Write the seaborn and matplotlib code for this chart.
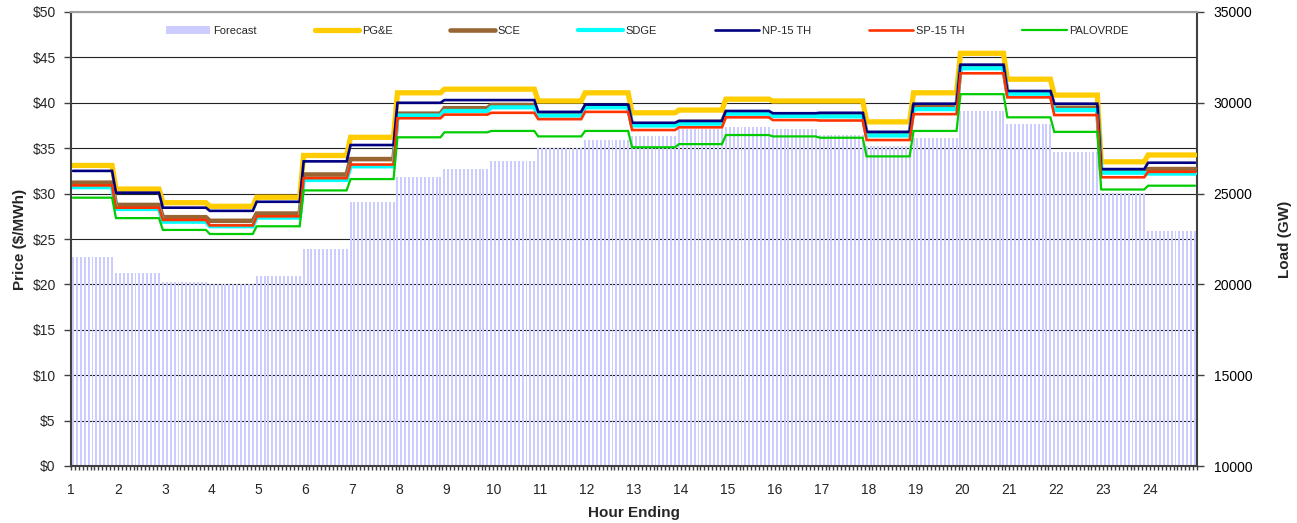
import numpy as np
import pandas as pd
import matplotlib
matplotlib.use("Agg")
import matplotlib.pyplot as plt
from matplotlib.ticker import MultipleLocator, StrMethodFormatter, FixedLocator
from matplotlib.patches import Patch
from matplotlib.lines import Line2D
import seaborn as sns

# ---------------- data (hourly values) ----------------
hours = list(range(1, 25))
load_forecast = [21509, 20646, 20132, 20022, 20463, 21949, 24537, 25932, 26355, 26795,
                 27500, 27952, 28172, 28540, 28650, 28540, 28200, 27620, 28080, 29548,
                 28816, 27307, 25050, 22940]
pge = [33.1, 30.5, 29.0, 28.6, 29.6, 34.2, 36.2, 41.1, 41.5, 41.5, 40.2, 41.1,
       38.9, 39.2, 40.4, 40.2, 40.2, 37.9, 41.1, 45.45, 42.6, 40.85, 33.5, 34.25]
sce = [31.2, 28.75, 27.4, 27.0, 27.8, 32.1, 33.8, 38.8, 39.4, 39.75, 38.8, 39.6,
       37.6, 37.9, 38.9, 38.7, 38.7, 36.6, 39.6, 43.9, 41.1, 39.45, 32.4, 32.7]
sdge = [30.7, 28.3, 26.9, 26.4, 27.35, 31.5, 33.0, 38.6, 39.1, 39.5, 38.6, 39.5,
        37.5, 37.7, 38.8, 38.55, 38.5, 36.4, 39.3, 43.8, 41.0, 39.2, 32.3, 32.2]
np15 = [32.5, 30.1, 28.45, 28.1, 29.1, 33.55, 35.35, 40.0, 40.3, 40.3, 39.0, 39.8,
        37.8, 38.0, 39.1, 38.85, 38.9, 36.8, 39.9, 44.2, 41.3, 39.9, 32.7, 33.4]
sp15 = [30.9, 28.45, 27.1, 26.5, 27.5, 31.7, 33.2, 38.3, 38.7, 38.9, 38.2, 39.0,
        37.0, 37.3, 38.4, 38.1, 38.05, 35.9, 38.75, 43.25, 40.6, 38.65, 31.8, 32.4]
palo = [29.55, 27.3, 26.0, 25.55, 26.4, 30.35, 31.6, 36.2, 36.75, 36.9, 36.3, 36.9,
        35.1, 35.45, 36.45, 36.3, 36.15, 34.1, 36.9, 40.95, 38.4, 36.8, 30.45, 30.87]

series_names = ["PG&E", "SCE", "SDGE", "NP-15 TH", "SP-15 TH", "PALOVRDE"]
series_values = [pge, sce, sdge, np15, sp15, palo]
series_colors = ["#FFCC00", "#996633", "#00FFFF", "#000080", "#FF3300", "#00CC00"]
series_widths = [3.8, 3.3, 3.0, 1.9, 1.9, 1.6]
forecast_color = "#CCCCFF"

# 5-minute intervals (12 per hour) on the category axis
steps_per_hour = 12
n = steps_per_hour * len(hours)
step = np.arange(n)
hour_idx = np.minimum((step + 1) // steps_per_hour, len(hours) - 1)
xpos = hours[0] + (step + 0.5) / steps_per_hour

# ---------------- figure ----------------
sns.set_style("white")
plt.rcParams["font.family"] = ["Liberation Sans", "DejaVu Sans"]

fig = plt.figure(figsize=(12.97, 5.23), dpi=100)
ax = fig.add_axes([71 / 1297, 57 / 523, 1126 / 1297, 454 / 523])
ax2 = ax.twinx()
ax.set_zorder(2)
ax.patch.set_visible(False)
ax2.set_zorder(1)

# bars (load forecast) on the right axis
load_df = pd.DataFrame({"x": xpos, "load": np.asarray(load_forecast)[hour_idx]})
sns.barplot(data=load_df, x="x", y="load", native_scale=True, width=0.5,
            color=forecast_color, saturation=1, errorbar=None, linewidth=0, ax=ax2)

ax2.set_ylim(10000, 35000)
ax2.yaxis.set_major_locator(MultipleLocator(5000))
ax2.yaxis.set_minor_locator(MultipleLocator(2500))
ax2.set_axisbelow(True)
ax2.grid(True, which="both", axis="y", color="#222222", linewidth=0.8)
ax2.grid(False, axis="x")
ax2.tick_params(axis="y", which="major", direction="out", length=5, width=1,
                color="#404040", labelsize=10, labelcolor="black", right=True, pad=7)
ax2.tick_params(axis="y", which="minor", length=0)
ax2.set_ylabel("Load (GW)", fontsize=11, fontweight="bold", labelpad=18)
ax2.set_xlabel("")

# price lines on the left axis
for name, vals, col, lw in zip(series_names, series_values, series_colors, series_widths):
    sns.lineplot(x=xpos, y=np.asarray(vals)[hour_idx], color=col, linewidth=lw,
                 ax=ax, legend=False, solid_joinstyle="miter")

ax.set_ylim(0, 50)
ax.yaxis.set_major_locator(MultipleLocator(5))
ax.yaxis.set_major_formatter(StrMethodFormatter("${x:.0f}"))
ax.set_xlim(hours[0], hours[-1] + 1)
ax.set_xticks(hours)
ax.set_xticklabels([str(h) for h in hours])
ax.xaxis.set_minor_locator(FixedLocator(hours[0] + np.arange(n + 1) / steps_per_hour))
ax.tick_params(axis="x", which="both", direction="out", length=3, width=1,
               color="#404040", bottom=True)
ax.tick_params(axis="x", which="major", labelsize=10, pad=9)
ax.tick_params(axis="y", which="major", direction="out", length=5, width=1,
               color="#404040", labelsize=10, left=True, pad=6)
ax.grid(False)
ax.set_ylabel("Price ($/MWh)", fontsize=11, fontweight="bold", labelpad=4)
ax.set_xlabel("Hour Ending", fontsize=11, fontweight="bold", labelpad=7)

for s in ["left", "bottom"]:
    ax.spines[s].set_color("#404040")
    ax.spines[s].set_linewidth(1.5)
ax.spines["top"].set_color("#A0A0A0")
ax.spines["top"].set_linewidth(1.5)
ax.spines["right"].set_visible(False)
for s in ["left", "top", "bottom"]:
    ax2.spines[s].set_visible(False)
ax2.spines["right"].set_color("#404040")
ax2.spines["right"].set_linewidth(1.5)

# legend
handles = [Patch(facecolor=forecast_color, edgecolor="none")]
handles += [Line2D([0], [0], color=c, linewidth=w) for c, w in zip(series_colors, series_widths)]
labels = ["Forecast"] + series_names
ax.legend(handles, labels, ncol=7, loc="upper left", bbox_to_anchor=(0.0844, 0.970),
          frameon=False, fontsize=8, handlelength=4.0, handletextpad=0.25,
          columnspacing=5.2, borderaxespad=0, borderpad=0)

fig.savefig("out.png", dpi=100)
